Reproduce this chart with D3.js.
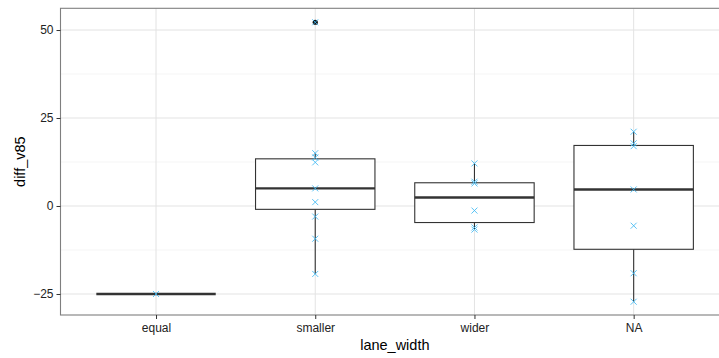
<!DOCTYPE html>
<html>
<head>
<meta charset="utf-8">
<script src="https://cdn.jsdelivr.net/npm/d3@7"></script>
<style>
  html, body { margin: 0; padding: 0; background: #fff; }
  svg { display: block; font-family: "Liberation Sans", Arial, Helvetica, sans-serif; }
</style>
</head>
<body>
<svg id="chart" width="719" height="358"></svg>
<script>
// Categories on the x axis
const categories = ["equal", "smaller", "wider", "NA"];

// Box summaries per category: lower whisker, Q1, median, Q3, upper whisker
const whiskerLow  = [-25, -19.3, -6.6, -27.2];
const q1          = [-25, -0.95, -4.7, -12.3];
const medians     = [-25, 5.0, 2.4, 4.7];
const q3          = [-25, 13.4, 6.6, 17.2];
const whiskerHigh = [-25, 15.0, 12.1, 21.1];
const outliers    = [[], [52.2], [], []];

// Individual observations per category
const obsEqual   = [-25];
const obsSmaller = [52.2, 15.0, 13.8, 12.4, 5.0, 1.1, -3.0, -9.3, -19.3];
const obsWider   = [12.1, 6.9, 6.4, -1.3, -6.1, -6.7];
const obsNA      = [21.1, 17.8, 17.0, 4.7, -5.6, -19.1, -27.2];
const observations = [obsEqual, obsSmaller, obsWider, obsNA];

// Axis ticks
const yMajorTicks = [-25, 0, 25, 50];
const yMinorTicks = [-12.5, 12.5, 37.5];

const svg = d3.select("#chart");
const panel = { left: 60.5, top: 8.3, right: 729.2, bottom: 315 };

const x = d3.scalePoint()
  .domain(categories)
  .range([panel.left, panel.right])
  .padding(0.6);
const step = x.step();

const y = d3.scaleLinear()
  .domain([-30.97, 56.17])
  .range([panel.bottom, panel.top]);

// Panel background
svg.append("rect")
  .attr("x", panel.left).attr("y", panel.top)
  .attr("width", panel.right - panel.left).attr("height", panel.bottom - panel.top)
  .attr("fill", "#fff");

// Grid lines
const grid = svg.append("g");
grid.selectAll("line.minor").data(yMinorTicks).join("line")
  .attr("class", "minor")
  .attr("x1", panel.left).attr("x2", panel.right)
  .attr("y1", d => y(d)).attr("y2", d => y(d))
  .attr("stroke", "#f2f2f2").attr("stroke-width", 0.8);
grid.selectAll("line.major").data(yMajorTicks).join("line")
  .attr("class", "major")
  .attr("x1", panel.left).attr("x2", panel.right)
  .attr("y1", d => y(d)).attr("y2", d => y(d))
  .attr("stroke", "#e3e3e3").attr("stroke-width", 1);
grid.selectAll("line.xmajor").data(categories).join("line")
  .attr("class", "xmajor")
  .attr("x1", d => x(d)).attr("x2", d => x(d))
  .attr("y1", panel.top).attr("y2", panel.bottom)
  .attr("stroke", "#e3e3e3").attr("stroke-width", 1);

// Boxplots
const boxW = step * 0.75;
const boxes = svg.append("g");
categories.forEach((c, i) => {
  const cx = x(c);
  const g = boxes.append("g");
  // whiskers
  g.append("line")
    .attr("x1", cx).attr("x2", cx)
    .attr("y1", y(q3[i])).attr("y2", y(whiskerHigh[i]))
    .attr("stroke", "#333").attr("stroke-width", 1.1);
  g.append("line")
    .attr("x1", cx).attr("x2", cx)
    .attr("y1", y(q1[i])).attr("y2", y(whiskerLow[i]))
    .attr("stroke", "#333").attr("stroke-width", 1.1);
  // box
  g.append("rect")
    .attr("x", cx - boxW / 2).attr("width", boxW)
    .attr("y", y(q3[i])).attr("height", Math.max(0, y(q1[i]) - y(q3[i])))
    .attr("fill", "#fff").attr("stroke", "#333").attr("stroke-width", 1.1);
  // median
  g.append("line")
    .attr("x1", cx - boxW / 2).attr("x2", cx + boxW / 2)
    .attr("y1", y(medians[i])).attr("y2", y(medians[i]))
    .attr("stroke", "#333").attr("stroke-width", 2.4);
  // outliers
  g.selectAll("circle").data(outliers[i]).join("circle")
    .attr("cx", cx).attr("cy", d => y(d)).attr("r", 2.6)
    .attr("fill", "#111");
});

// Observation markers (crosses)
const pts = svg.append("g");
const s = 3;
categories.forEach((c, i) => {
  const cx = x(c);
  pts.selectAll(null).data(observations[i]).join("path")
    .attr("d", d => {
      const py = y(d);
      return `M${cx - s},${py - s}L${cx + s},${py + s}M${cx - s},${py + s}L${cx + s},${py - s}`;
    })
    .attr("stroke", "#3fb9f2").attr("stroke-opacity", 0.85)
    .attr("stroke-width", 1).attr("fill", "none");
});

// Panel border
svg.append("rect")
  .attr("x", panel.left).attr("y", panel.top)
  .attr("width", panel.right - panel.left).attr("height", panel.bottom - panel.top)
  .attr("fill", "none").attr("stroke", "#7f7f7f").attr("stroke-width", 1.1);

// Y axis
const yAxis = svg.append("g")
  .attr("transform", `translate(${panel.left},0)`)
  .call(d3.axisLeft(y).tickValues(yMajorTicks).tickSize(4).tickPadding(3));
yAxis.select(".domain").remove();
yAxis.selectAll(".tick line").attr("stroke", "#333");
yAxis.selectAll(".tick text")
  .attr("fill", "#222").style("font-size", "12px")
  .style("font-family", "'Liberation Sans', Arial, sans-serif");

// X axis
const xAxis = svg.append("g")
  .attr("transform", `translate(0,${panel.bottom})`)
  .call(d3.axisBottom(x).tickSize(4).tickPadding(4));
xAxis.select(".domain").remove();
xAxis.selectAll(".tick line").attr("stroke", "#333");
xAxis.selectAll(".tick text")
  .attr("fill", "#222").style("font-size", "12px")
  .style("font-family", "'Liberation Sans', Arial, sans-serif");

// Axis titles
svg.append("text")
  .attr("x", (panel.left + panel.right) / 2).attr("y", 350)
  .attr("text-anchor", "middle")
  .style("font-size", "14.5px").attr("fill", "#000")
  .text("lane_width");
svg.append("text")
  .attr("transform", `translate(25,${(panel.top + panel.bottom) / 2}) rotate(-90)`)
  .attr("text-anchor", "middle")
  .style("font-size", "14.5px").attr("fill", "#000")
  .text("diff_v85");
</script>
</body>
</html>
